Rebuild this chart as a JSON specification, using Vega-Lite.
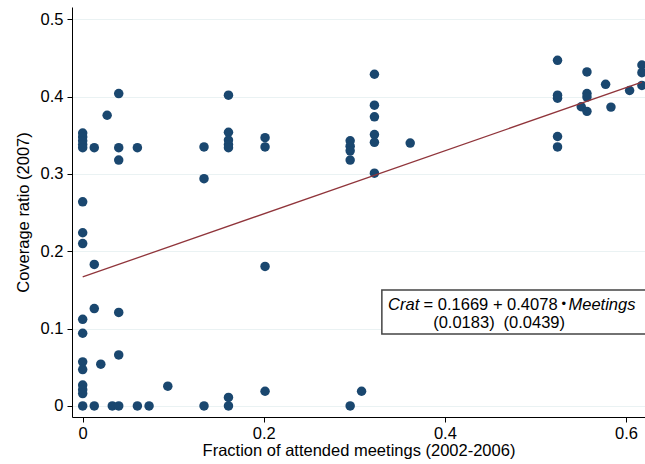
{
  "$schema": "https://vega.github.io/schema/vega-lite/v6.json",
  "width": 573,
  "height": 410,
  "autosize": {"type": "none"},
  "padding": {"left": 72, "top": 7, "right": 0, "bottom": 47},
  "background": "white",
  "config": {"view": {"stroke": null}, "font": "Liberation Sans"},
  "layer": [
    {
      "data": {"values": [
        {"meetings": 0, "crat": 0.353}, {"meetings": 0, "crat": 0.348}, {"meetings": 0, "crat": 0.343}, {"meetings": 0, "crat": 0.338}, {"meetings": 0, "crat": 0.334},
        {"meetings": 0, "crat": 0.264}, {"meetings": 0, "crat": 0.224}, {"meetings": 0, "crat": 0.21}, {"meetings": 0, "crat": 0.112}, {"meetings": 0, "crat": 0.094},
        {"meetings": 0, "crat": 0.057}, {"meetings": 0, "crat": 0.047}, {"meetings": 0, "crat": 0.027}, {"meetings": 0, "crat": 0.021}, {"meetings": 0, "crat": 0.016}, {"meetings": 0, "crat": 0},
        {"meetings": 0.0128, "crat": 0.334}, {"meetings": 0.0128, "crat": 0.183}, {"meetings": 0.0128, "crat": 0.126}, {"meetings": 0.0128, "crat": 0},
        {"meetings": 0.020, "crat": 0.054},
        {"meetings": 0.027, "crat": 0.376},
        {"meetings": 0.0327, "crat": 0},
        {"meetings": 0.0398, "crat": 0.404}, {"meetings": 0.0398, "crat": 0.334}, {"meetings": 0.0398, "crat": 0.318}, {"meetings": 0.0398, "crat": 0.121}, {"meetings": 0.0398, "crat": 0.066}, {"meetings": 0.0398, "crat": 0},
        {"meetings": 0.0604, "crat": 0.334}, {"meetings": 0.0604, "crat": 0},
        {"meetings": 0.0733, "crat": 0},
        {"meetings": 0.094, "crat": 0.0255},
        {"meetings": 0.134, "crat": 0.335}, {"meetings": 0.134, "crat": 0.294}, {"meetings": 0.134, "crat": 0},
        {"meetings": 0.161, "crat": 0.402}, {"meetings": 0.161, "crat": 0.354}, {"meetings": 0.161, "crat": 0.344}, {"meetings": 0.161, "crat": 0.338}, {"meetings": 0.161, "crat": 0.334}, {"meetings": 0.161, "crat": 0.011}, {"meetings": 0.161, "crat": 0},
        {"meetings": 0.2014, "crat": 0.347}, {"meetings": 0.2014, "crat": 0.335}, {"meetings": 0.2014, "crat": 0.1805}, {"meetings": 0.2014, "crat": 0.019},
        {"meetings": 0.2954, "crat": 0.343}, {"meetings": 0.2954, "crat": 0.336}, {"meetings": 0.2954, "crat": 0.330}, {"meetings": 0.2954, "crat": 0.318}, {"meetings": 0.2954, "crat": 0},
        {"meetings": 0.308, "crat": 0.019},
        {"meetings": 0.3222, "crat": 0.429}, {"meetings": 0.3222, "crat": 0.389}, {"meetings": 0.3222, "crat": 0.374}, {"meetings": 0.3222, "crat": 0.351}, {"meetings": 0.3222, "crat": 0.341}, {"meetings": 0.3222, "crat": 0.301},
        {"meetings": 0.3617, "crat": 0.340},
        {"meetings": 0.5244, "crat": 0.447}, {"meetings": 0.5244, "crat": 0.402}, {"meetings": 0.5244, "crat": 0.398}, {"meetings": 0.5244, "crat": 0.3485}, {"meetings": 0.5244, "crat": 0.335},
        {"meetings": 0.5506, "crat": 0.387},
        {"meetings": 0.5569, "crat": 0.432}, {"meetings": 0.5569, "crat": 0.404}, {"meetings": 0.5569, "crat": 0.3995}, {"meetings": 0.5569, "crat": 0.381},
        {"meetings": 0.5775, "crat": 0.416},
        {"meetings": 0.5834, "crat": 0.3865},
        {"meetings": 0.604, "crat": 0.408},
        {"meetings": 0.6176, "crat": 0.441}, {"meetings": 0.6176, "crat": 0.431}, {"meetings": 0.6176, "crat": 0.4145}
      ]},
      "mark": {"type": "point", "filled": true, "size": 90, "color": "#1a476f", "opacity": 1, "strokeWidth": 0},
      "encoding": {
        "x": {"field": "meetings", "type": "quantitative",
          "scale": {"domain": [-0.0118, 0.621], "nice": false, "zero": false},
          "axis": {"title": "Fraction of attended meetings (2002-2006)", "values": [0, 0.2, 0.4, 0.6], "format": "~g", "grid": false,
            "domainColor": "#000", "tickColor": "#000", "tickSize": 5, "labelFontSize": 16.5, "labelColor": "#000",
            "titleFontSize": 16.5, "titleFontWeight": "normal", "titleColor": "#000", "labelPadding": 3, "titlePadding": 1}},
        "y": {"field": "crat", "type": "quantitative",
          "scale": {"domain": [-0.0143, 0.516], "nice": false, "zero": false},
          "axis": {"title": "Coverage ratio (2007)", "values": [0, 0.1, 0.2, 0.3, 0.4, 0.5], "format": "~g", "grid": true, "gridColor": "#eaf2f3", "gridWidth": 1,
            "domainColor": "#000", "tickColor": "#000", "tickSize": 5, "labelFontSize": 16.5, "labelColor": "#000",
            "titleFontSize": 16.5, "titleFontWeight": "normal", "titleColor": "#000", "labelPadding": 4, "titlePadding": 9}}
      }
    },
    {
      "data": {"values": [{"meetings": 0, "crat": 0.1669}, {"meetings": 0.6176, "crat": 0.4188}]},
      "mark": {"type": "line", "color": "#90353b", "strokeWidth": 1.3},
      "encoding": {
        "x": {"field": "meetings", "type": "quantitative"},
        "y": {"field": "crat", "type": "quantitative"}
      }
    },
    {
      "data": {"values": [{"meetings": 0.3304, "meetings2": 0.66, "crat": 0.1499, "crat2": 0.0929}]},
      "mark": {"type": "rect", "fill": "white", "stroke": "#444", "strokeWidth": 1.5},
      "encoding": {
        "x": {"field": "meetings", "type": "quantitative"},
        "x2": {"field": "meetings2"},
        "y": {"field": "crat", "type": "quantitative"},
        "y2": {"field": "crat2"}
      }
    },
    {
      "data": {"values": [{"meetings": 0.3373, "crat": 0.124, "t": "Crat"}, {"meetings": 0.5365, "crat": 0.124, "t": "Meetings"}]},
      "mark": {"type": "text", "align": "left", "baseline": "alphabetic", "fontSize": 16.5, "fontStyle": "italic", "color": "#000"},
      "encoding": {
        "x": {"field": "meetings", "type": "quantitative"},
        "y": {"field": "crat", "type": "quantitative"},
        "text": {"field": "t"}
      }
    },
    {
      "data": {"values": [{"meetings": 0.3765, "crat": 0.124, "t": "= 0.1669 + 0.4078"}]},
      "mark": {"type": "text", "align": "left", "baseline": "alphabetic", "fontSize": 16.5, "color": "#000"},
      "encoding": {
        "x": {"field": "meetings", "type": "quantitative"},
        "y": {"field": "crat", "type": "quantitative"},
        "text": {"field": "t"}
      }
    },
    {
      "data": {"values": [{"meetings": 0.5312, "crat": 0.1262, "t": "•"}]},
      "mark": {"type": "text", "align": "center", "baseline": "alphabetic", "fontSize": 13, "color": "#000"},
      "encoding": {
        "x": {"field": "meetings", "type": "quantitative"},
        "y": {"field": "crat", "type": "quantitative"},
        "text": {"field": "t"}
      }
    },
    {
      "data": {"values": [{"meetings": 0.4210, "crat": 0.1003, "t": "(0.0183)"}, {"meetings": 0.4987, "crat": 0.1003, "t": "(0.0439)"}]},
      "mark": {"type": "text", "align": "center", "baseline": "alphabetic", "fontSize": 16.5, "color": "#000"},
      "encoding": {
        "x": {"field": "meetings", "type": "quantitative"},
        "y": {"field": "crat", "type": "quantitative"},
        "text": {"field": "t"}
      }
    }
  ]
}
